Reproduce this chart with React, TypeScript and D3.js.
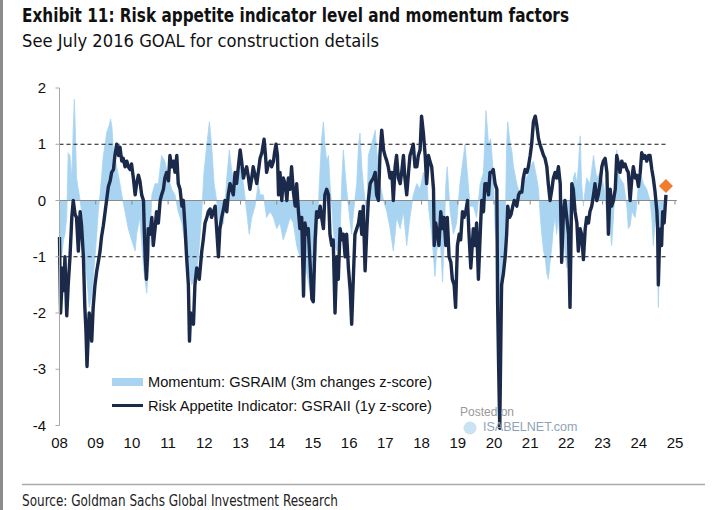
import React from "react";
import * as d3 from "d3";

// ---------- DATA ----------
const yTicks = [2, 1, 0, -1, -2, -3, -4];
const xYears = [2008, 2009, 2010, 2011, 2012, 2013, 2014, 2015, 2016, 2017, 2018, 2019, 2020, 2021, 2022, 2023, 2024, 2025];
const xLabels = ["08", "09", "10", "11", "12", "13", "14", "15", "16", "17", "18", "19", "20", "21", "22", "23", "24", "25"];
const refLines = [1, -1];

// Risk Appetite Indicator: GSRAII (1y z-score) [year, value]
const riskAppetite: [number, number][] = [
  [2008.00,-0.65],[2008.03,-2.0],[2008.09,-1.2],[2008.12,-1.6],[2008.15,-1.0],[2008.20,-2.05],[2008.24,-1.5],[2008.29,-1.0],[2008.34,-0.3],[2008.38,0.0],[2008.43,-0.25],[2008.47,-0.3],[2008.52,-0.9],[2008.57,-0.2],[2008.61,-0.45],[2008.66,-1.0],[2008.70,-1.9],[2008.73,-2.3],[2008.76,-2.95],[2008.80,-2.3],[2008.82,-2.0],[2008.86,-2.2],[2008.89,-2.5],[2008.93,-1.9],[2008.98,-1.5],
  [2009.03,-1.25],[2009.07,-1.1],[2009.12,-0.9],[2009.16,-0.65],[2009.21,-0.45],[2009.26,-0.2],[2009.30,0.0],[2009.35,0.25],[2009.40,0.35],[2009.44,0.5],[2009.49,0.55],[2009.53,0.8],[2009.58,1.0],[2009.63,0.8],[2009.67,0.95],[2009.72,0.7],[2009.76,0.75],[2009.81,0.6],[2009.86,0.7],[2009.90,0.6],[2009.95,0.55],[2009.99,0.65],
  [2010.04,0.4],[2010.09,0.1],[2010.13,0.3],[2010.18,0.45],[2010.22,0.35],[2010.27,0.1],[2010.32,0.0],[2010.34,-0.5],[2010.37,-1.05],[2010.40,-1.4],[2010.43,-1.0],[2010.45,-0.5],[2010.50,-0.6],[2010.55,-0.3],[2010.59,-0.8],[2010.64,-0.5],[2010.68,-0.2],[2010.73,-0.4],[2010.78,0.0],[2010.82,0.1],[2010.87,0.2],[2010.91,0.4],[2010.96,0.5],
  [2011.01,0.35],[2011.05,0.8],[2011.10,0.6],[2011.15,0.7],[2011.19,0.5],[2011.24,0.8],[2011.28,0.3],[2011.33,0.2],[2011.38,-0.1],[2011.42,0.0],[2011.47,-0.5],[2011.51,-1.0],[2011.56,-1.5],[2011.59,-2.5],[2011.62,-2.0],[2011.65,-2.1],[2011.70,-2.2],[2011.74,-1.5],[2011.79,-1.2],[2011.84,-1.3],[2011.86,-1.4],[2011.93,-0.9],[2011.97,-0.7],
  [2012.02,-0.4],[2012.07,-0.3],[2012.11,-0.2],[2012.16,-0.15],[2012.20,-0.3],[2012.25,-0.2],[2012.30,-0.1],[2012.34,-0.5],[2012.39,-1.0],[2012.43,-0.5],[2012.48,-0.3],[2012.53,-0.15],[2012.57,0.0],[2012.62,-0.2],[2012.66,0.1],[2012.71,0.3],[2012.76,0.2],[2012.80,0.1],[2012.85,0.5],[2012.89,0.3],[2012.94,0.6],[2012.99,0.9],
  [2013.03,0.7],[2013.08,0.4],[2013.12,0.5],[2013.17,0.6],[2013.22,0.4],[2013.26,0.2],[2013.31,0.4],[2013.35,0.6],[2013.40,0.45],[2013.45,0.3],[2013.49,0.5],[2013.54,0.75],[2013.59,0.85],[2013.65,1.09],[2013.69,0.8],[2013.72,0.5],[2013.77,0.65],[2013.82,0.7],[2013.86,0.6],[2013.91,0.7],[2013.94,0.85],[2013.98,1.0],
  [2014.02,0.8],[2014.05,0.1],[2014.09,0.5],[2014.14,0.0],[2014.18,0.4],[2014.23,0.3],[2014.28,0.0],[2014.32,0.4],[2014.37,0.2],[2014.41,0.6],[2014.46,0.15],[2014.51,-0.1],[2014.55,0.3],[2014.60,-0.2],[2014.64,-0.5],[2014.69,-0.3],[2014.74,-1.7],[2014.78,-0.4],[2014.83,-0.6],[2014.87,-0.5],[2014.92,-1.1],[2014.97,-1.75],
  [2015.01,-1.8],[2015.06,-0.7],[2015.10,-0.2],[2015.15,-0.3],[2015.20,-0.1],[2015.24,-0.3],[2015.29,-0.5],[2015.33,0.1],[2015.38,0.2],[2015.43,0.1],[2015.47,-0.6],[2015.52,-0.8],[2015.56,-0.7],[2015.61,-2.0],[2015.66,-1.0],[2015.70,-1.4],[2015.75,-0.5],[2015.80,-0.7],[2015.84,-0.6],[2015.89,-1.0],[2015.93,-0.6],[2015.98,-1.2],
  [2016.03,-1.6],[2016.07,-2.2],[2016.12,-1.3],[2016.16,-0.6],[2016.21,-0.5],[2016.26,-0.4],[2016.30,-0.2],[2016.35,-0.6],[2016.39,-0.1],[2016.44,-1.25],[2016.49,-0.5],[2016.53,0.0],[2016.58,0.3],[2016.62,0.35],[2016.67,0.4],[2016.72,0.5],[2016.76,0.1],[2016.81,0.0],[2016.85,0.8],[2016.90,1.25],[2016.95,0.9],[2016.99,0.8],
  [2017.04,0.7],[2017.08,0.6],[2017.13,0.4],[2017.18,0.5],[2017.22,0.0],[2017.27,0.6],[2017.31,0.8],[2017.36,0.4],[2017.41,0.3],[2017.45,0.5],[2017.50,0.8],[2017.54,0.4],[2017.59,0.1],[2017.64,0.5],[2017.68,0.8],[2017.73,0.9],[2017.77,1.0],[2017.82,0.6],[2017.87,0.6],[2017.91,0.8],[2017.96,0.9],
  [2018.00,1.5],[2018.05,1.2],[2018.10,0.8],[2018.14,0.3],[2018.19,0.8],[2018.23,0.7],[2018.28,0.6],[2018.33,0.2],[2018.35,-0.8],[2018.39,-0.4],[2018.44,-0.6],[2018.48,-0.8],[2018.53,-0.2],[2018.58,-0.5],[2018.62,-0.3],[2018.67,-0.8],[2018.71,-0.3],[2018.76,-1.0],[2018.81,-1.1],[2018.85,-1.4],[2018.90,-1.5],[2018.94,-1.9],[2018.99,-0.8],
  [2019.04,-0.6],[2019.08,-0.7],[2019.13,-0.2],[2019.17,-0.3],[2019.22,-0.2],[2019.27,0.0],[2019.31,-0.6],[2019.36,-1.2],[2019.43,-0.5],[2019.48,-0.8],[2019.52,-0.4],[2019.57,-1.4],[2019.62,-0.6],[2019.66,0.0],[2019.71,-0.2],[2019.75,0.3],[2019.80,0.3],[2019.85,0.1],[2019.89,0.5],[2019.94,0.5],[2019.98,0.55],
  [2020.03,0.3],[2020.08,0.2],[2020.10,-1.8],[2020.13,-3.0],[2020.16,-4.05],[2020.19,-2.5],[2020.21,-1.5],[2020.26,-1.3],[2020.31,-1.0],[2020.35,-0.6],[2020.38,-0.1],[2020.43,-0.3],[2020.47,-0.25],[2020.52,-0.1],[2020.56,0.0],[2020.63,-0.1],[2020.68,0.1],[2020.72,0.15],[2020.77,0.15],[2020.81,0.4],[2020.86,0.55],[2020.91,0.5],[2020.95,0.6],
  [2021.00,0.8],[2021.04,1.0],[2021.09,1.4],[2021.14,1.5],[2021.18,1.35],[2021.23,1.1],[2021.27,1.0],[2021.32,0.9],[2021.37,0.8],[2021.41,0.75],[2021.46,0.6],[2021.50,0.3],[2021.55,0.0],[2021.60,0.2],[2021.64,0.4],[2021.69,0.5],[2021.73,0.4],[2021.78,0.6],[2021.83,0.3],[2021.87,-1.1],[2021.92,-0.2],[2021.96,0.0],
  [2022.01,-0.3],[2022.06,-0.6],[2022.10,-1.9],[2022.15,0.3],[2022.19,0.2],[2022.24,-0.2],[2022.29,-0.4],[2022.33,-0.9],[2022.38,-0.5],[2022.42,-0.6],[2022.47,-1.05],[2022.52,-0.5],[2022.56,-0.3],[2022.61,-0.4],[2022.65,-0.2],[2022.70,-0.1],[2022.75,0.1],[2022.79,0.3],[2022.84,0.0],[2022.88,0.1],[2022.93,0.3],[2022.98,0.6],
  [2023.02,0.7],[2023.07,0.75],[2023.12,0.5],[2023.16,-0.6],[2023.21,0.2],[2023.25,-0.1],[2023.30,0.0],[2023.35,0.2],[2023.39,0.8],[2023.44,0.65],[2023.48,0.5],[2023.53,0.7],[2023.58,0.6],[2023.62,0.65],[2023.67,0.55],[2023.71,0.5],[2023.76,0.0],[2023.81,0.4],[2023.85,0.6],[2023.90,0.4],[2023.94,0.45],[2023.99,0.25],
  [2024.04,0.5],[2024.08,0.85],[2024.13,0.75],[2024.17,0.8],[2024.22,0.7],[2024.27,0.8],[2024.31,0.8],[2024.36,0.55],[2024.40,0.4],[2024.45,0.15],[2024.50,-0.2],[2024.52,-0.5],[2024.54,-1.5],[2024.57,-0.8],[2024.61,-0.5],[2024.63,-0.8],[2024.66,-0.2],[2024.70,-0.4],[2024.73,-0.1],[2024.75,0.1]
];

// Momentum: GSRAIM (3m changes z-score) [year, value]
const momentum: [number, number][] = [
  [2008.00,-0.5],[2008.06,-1.0],[2008.11,-0.7],[2008.15,-0.6],[2008.20,-0.3],[2008.24,0.85],[2008.29,0.8],[2008.34,0.4],[2008.38,1.3],[2008.41,1.8],[2008.44,1.2],[2008.47,0.4],[2008.52,0.2],[2008.57,0.0],[2008.61,-0.2],[2008.66,-0.5],[2008.70,-1.0],[2008.77,-1.5],[2008.82,-1.9],[2008.89,-1.7],[2008.93,-1.4],[2008.98,-1.0],
  [2009.03,-0.6],[2009.07,-0.2],[2009.12,0.1],[2009.16,0.4],[2009.21,0.8],[2009.26,1.0],[2009.30,1.2],[2009.38,1.35],[2009.41,1.45],[2009.45,1.3],[2009.49,0.9],[2009.58,0.6],[2009.67,0.3],[2009.72,0.1],[2009.81,-0.2],[2009.90,-0.5],[2009.99,-0.7],
  [2010.09,-0.9],[2010.13,-0.6],[2010.22,-0.3],[2010.32,-1.2],[2010.41,-1.65],[2010.48,-1.0],[2010.55,0.1],[2010.64,0.3],[2010.73,0.3],[2010.82,0.8],[2010.91,0.7],
  [2011.01,0.4],[2011.10,0.2],[2011.19,0.1],[2011.28,-0.2],[2011.38,-0.4],[2011.47,-0.8],[2011.56,-1.2],[2011.65,-1.5],[2011.74,-1.4],[2011.84,-1.0],[2011.93,-0.2],[2011.99,0.5],
  [2012.07,1.0],[2012.14,1.4],[2012.20,1.0],[2012.27,0.3],[2012.34,0.0],[2012.43,-0.5],[2012.53,-0.4],[2012.62,0.4],[2012.69,0.9],[2012.76,0.5],[2012.82,0.4],[2012.89,0.2],[2012.99,0.6],
  [2013.08,0.3],[2013.17,-0.2],[2013.24,-0.6],[2013.31,-0.3],[2013.40,-0.1],[2013.49,0.3],[2013.54,0.1],[2013.63,0.1],[2013.72,-0.3],[2013.82,-0.2],[2013.91,-0.3],
  [2014.00,-0.5],[2014.09,-0.4],[2014.18,-0.7],[2014.28,-0.5],[2014.37,-0.3],[2014.46,-0.4],[2014.55,-0.8],[2014.64,-1.0],[2014.74,-0.9],[2014.83,-1.3],[2014.92,-1.6],
  [2015.01,-1.8],[2015.10,-0.8],[2015.20,0.6],[2015.24,1.1],[2015.29,1.4],[2015.33,1.0],[2015.38,0.7],[2015.43,0.8],[2015.47,0.3],[2015.52,-0.1],[2015.56,-0.5],[2015.61,-0.8],[2015.66,-0.9],[2015.75,-0.6],[2015.80,0.4],[2015.84,0.9],[2015.89,0.5],[2015.93,0.2],
  [2016.03,-0.4],[2016.07,-0.6],[2016.12,-0.2],[2016.21,0.3],[2016.26,1.0],[2016.30,1.2],[2016.35,0.6],[2016.39,0.3],[2016.49,-0.3],[2016.53,0.8],[2016.62,1.0],[2016.72,1.25],[2016.76,0.9],[2016.85,0.3],[2016.95,0.0],
  [2017.04,-0.2],[2017.13,-0.5],[2017.22,-0.9],[2017.27,-0.6],[2017.31,-0.3],[2017.41,-0.5],[2017.50,-0.2],[2017.59,-0.8],[2017.68,-0.3],[2017.77,0.1],[2017.87,0.3],[2017.96,0.2],
  [2018.05,0.5],[2018.14,0.4],[2018.19,-0.1],[2018.28,-0.6],[2018.33,-1.0],[2018.37,-1.35],[2018.42,-0.9],[2018.51,-0.6],[2018.58,-1.45],[2018.62,-0.8],[2018.67,0.3],[2018.71,0.6],[2018.79,-0.2],[2018.88,-0.6],[2018.97,-0.4],
  [2019.06,0.3],[2019.16,0.8],[2019.20,1.0],[2019.25,0.6],[2019.34,-0.1],[2019.43,-0.1],[2019.52,-0.3],[2019.62,0.3],[2019.71,0.5],[2019.78,1.6],[2019.85,1.0],[2019.91,1.1],[2019.98,0.5],
  [2020.03,-0.5],[2020.08,-0.8],[2020.12,-1.8],[2020.16,-2.8],[2020.21,-2.0],[2020.26,-1.3],[2020.31,-0.5],[2020.35,1.0],[2020.38,1.4],[2020.45,1.0],[2020.49,0.9],[2020.54,0.6],[2020.63,0.3],[2020.72,0.1],[2020.81,0.5],[2020.91,0.4],
  [2021.00,0.6],[2021.09,0.7],[2021.18,0.4],[2021.23,0.2],[2021.27,-0.2],[2021.32,-0.6],[2021.37,-0.9],[2021.41,-1.0],[2021.46,-1.3],[2021.50,-1.4],[2021.55,-1.1],[2021.60,-0.8],[2021.64,-0.5],[2021.69,-0.3],[2021.73,-0.6],[2021.78,-0.3],[2021.83,-0.8],[2021.87,-1.0],[2021.92,-0.5],[2021.96,-0.9],
  [2022.01,-1.2],[2022.06,-1.0],[2022.10,-1.3],[2022.15,-0.3],[2022.19,0.4],[2022.24,0.5],[2022.29,0.3],[2022.33,0.6],[2022.38,1.15],[2022.42,0.3],[2022.47,-0.1],[2022.52,0.2],[2022.56,0.4],[2022.65,0.3],[2022.75,0.8],[2022.79,0.6],[2022.84,0.4],[2022.93,0.5],
  [2023.02,0.3],[2023.07,0.1],[2023.12,-0.3],[2023.21,-0.5],[2023.25,-0.8],[2023.30,-0.3],[2023.35,0.3],[2023.39,0.9],[2023.44,0.5],[2023.48,0.4],[2023.58,0.3],[2023.67,-0.1],[2023.71,-0.5],[2023.76,-0.45],[2023.81,-0.2],[2023.90,-0.3],[2023.94,-0.1],[2023.99,0.3],
  [2024.04,0.5],[2024.13,0.3],[2024.22,0.2],[2024.31,0.0],[2024.36,-0.3],[2024.40,-0.8],[2024.45,-0.4],[2024.50,-0.3],[2024.54,-1.9],[2024.59,-0.6],[2024.63,-0.3],[2024.68,-0.2],[2024.73,-0.1],[2024.75,0.1]
];

const latestPoint: [number, number] = [2024.75, 0.26];

const title = "Exhibit 11: Risk appetite indicator level and momentum factors";
const subtitle = "See July 2016 GOAL for construction details";
const source = "Source: Goldman Sachs Global Investment Research";
const legendMomentum = "Momentum: GSRAIM (3m changes z-score)";
const legendRisk = "Risk Appetite Indicator: GSRAII (1y z-score)";

// ---------- CHART ----------
const W = 719;
const H = 510;
const LIGHT = "#a8d4f2";
const DARK = "#1b2a4a";
const NARROW = "'Liberation Sans Narrow', 'DejaVu Sans Condensed', 'Roboto Condensed', sans-serif";
const SANS = "'Liberation Sans', Arial, sans-serif";

export default function App() {
  const x = d3.scaleLinear().domain([2008, 2025]).range([59.5, 675]);
  const y = d3.scaleLinear().domain([-4, 2]).range([425.5, 88]);

  const area = d3
    .area<[number, number]>()
    .x((d) => x(d[0]))
    .y0(y(0))
    .y1((d) => y(d[1]));
  const line = d3
    .line<[number, number]>()
    .x((d) => x(d[0]))
    .y((d) => y(d[1]));

  const axisX = 59.5;
  const zeroEnd = x(2025.05);
  const dashEnd = x(latestPoint[0]);
  const lx = latestPoint[0];
  const ly = latestPoint[1];

  return (
    <svg
      width={W}
      height={H}
      viewBox={`0 0 ${W} ${H}`}
      style={{ position: "absolute", left: 0, top: 0, background: "#fff" }}
    >
      <rect x={0} y={0} width={W} height={H} fill="#fff" />
      <rect x={0} y={0} width={3} height={H} fill="#8c8c8c" />

      {/* titles */}
      <text x={22} y={22} fontFamily={NARROW} fontWeight="bold" fontSize={20} fill="#111" textLength={547} lengthAdjust="spacingAndGlyphs">
        {title}
      </text>
      <text x={22} y={47} fontFamily={NARROW} fontSize={18} fill="#111" textLength={357} lengthAdjust="spacingAndGlyphs">
        {subtitle}
      </text>

      {/* momentum area */}
      <path d={area(momentum) || ""} fill={LIGHT} stroke={LIGHT} strokeWidth={0.8} />

      {/* zero line */}
      <line x1={axisX} x2={zeroEnd} y1={y(0)} y2={y(0)} stroke="#8a8a8a" strokeWidth={1} />
      {xYears.map((yr) => (
        <line key={"xt" + yr} x1={x(yr)} x2={x(yr)} y1={y(0)} y2={y(0) + 4} stroke="#8a8a8a" strokeWidth={1} />
      ))}

      {/* dashed reference lines */}
      {refLines.map((v) => (
        <line key={"rl" + v} x1={axisX} x2={dashEnd} y1={y(v)} y2={y(v)} stroke="#111" strokeWidth={1.2} strokeDasharray="4,3" />
      ))}

      {/* risk appetite line */}
      <path d={line(riskAppetite) || ""} fill="none" stroke={DARK} strokeWidth={3.4} strokeLinejoin="round" />

      {/* latest point diamond */}
      <path
        d={`M${x(lx)},${y(ly) - 7} L${x(lx) + 7},${y(ly)} L${x(lx)},${y(ly) + 7} L${x(lx) - 7},${y(ly)} Z`}
        fill="#f07c2c"
      />

      {/* y axis */}
      <line x1={axisX} x2={axisX} y1={y(2)} y2={y(-4)} stroke="#a8a8a8" strokeWidth={1} />
      {yTicks.map((v) => (
        <g key={"yt" + v}>
          <line x1={axisX - 4} x2={axisX} y1={y(v)} y2={y(v)} stroke="#a8a8a8" strokeWidth={1} />
          <text x={46} y={y(v) + 5} textAnchor="end" fontFamily={SANS} fontSize={15} fill="#111">
            {v}
          </text>
        </g>
      ))}

      {/* x labels */}
      {xYears.map((yr, i) => (
        <text key={"xl" + yr} x={x(yr)} y={448} textAnchor="middle" fontFamily={SANS} fontSize={15} fill="#111">
          {xLabels[i]}
        </text>
      ))}

      {/* legend */}
      <rect x={112} y={378} width={31} height={8} fill={LIGHT} />
      <text x={148} y={387} fontFamily={SANS} fontSize={15} fill="#111" textLength={284} lengthAdjust="spacingAndGlyphs">
        {legendMomentum}
      </text>
      <line x1={112} x2={143} y1={405.5} y2={405.5} stroke={DARK} strokeWidth={3} />
      <text x={148} y={411} fontFamily={SANS} fontSize={15} fill="#111" textLength={284} lengthAdjust="spacingAndGlyphs">
        {legendRisk}
      </text>

      {/* watermark */}
      <text x={460} y={416} fontFamily={SANS} fontSize={12} fill="#9a9a9a">Posted on</text>
      <circle cx={470} cy={428} r={6.5} fill="#bcdcf0" opacity={0.8} />
      <text x={483} y={431} fontFamily={SANS} fontSize={12.5} fill="#8fa3b5">ISABELNET.com</text>

      {/* footer */}
      <line x1={22} x2={705} y1={484.5} y2={484.5} stroke="#aaaaaa" strokeWidth={1.5} />
      <text x={22} y={506} fontFamily={NARROW} fontSize={15} fill="#222" textLength={316} lengthAdjust="spacingAndGlyphs">
        {source}
      </text>
    </svg>
  );
}
